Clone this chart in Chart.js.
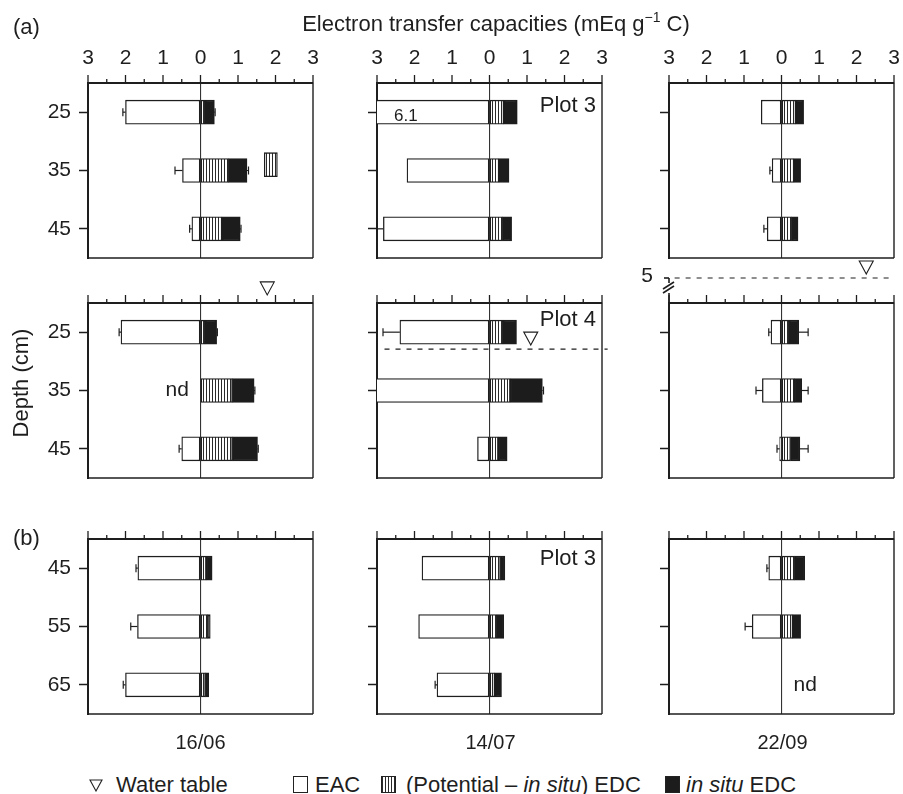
<!DOCTYPE html>
<html>
<head>
<meta charset="utf-8">
<script src="https://cdn.jsdelivr.net/npm/chart.js@4.4.0/dist/chart.umd.min.js"></script>
<style>
body { margin: 0; background: #fff; }
#wrap { position: relative; width: 903px; height: 794px; overflow: hidden; font-family: "Liberation Sans", Arial, sans-serif; color: #1e1e1e; }
#wrap canvas { position: absolute; }
.txt { position: absolute; white-space: nowrap; line-height: 1; }
.box { position: absolute; width: 15px; height: 17px; box-sizing: border-box; border: 1.3px solid #222; }
</style>
</head>
<body>
<div id="wrap"></div>
<script>
// depths (cm) and sampling dates
var depthsA = [25, 35, 45];
var depthsB = [45, 55, 65];
var dates = ['16/06', '14/07', '22/09'];
var xTicks = [-3, -2, -1, 0, 1, 2, 3];

// (a) Plot 3, one inner array per date, values in mEq g-1 C
var eacP3 = [[2.0, 0.48, 0.23], [6.1, 2.2, 2.83], [0.54, 0.25, 0.38]];
var eacErrP3 = [[0.07, 0.2, 0.06], [0, 0, 0.16], [0, 0.06, 0.09]];
var potEdcP3 = [[0.12, 0.75, 0.57], [0.38, 0.25, 0.35], [0.38, 0.33, 0.27]];
var insituEdcP3 = [[0.25, 0.49, 0.49], [0.36, 0.27, 0.24], [0.21, 0.18, 0.17]];
var edcErrP3 = [[0.02, 0.04, 0.02], [0, 0, 0], [0, 0, 0]];
var eacLabelP3 = [null, '6.1', null];
// odd striped box next to 35 cm on 16/06
var extraBoxDepth = 34;
var extraBoxRange = [1.7, 2.05];

// (a) Plot 4
var eacP4 = [[2.12, null, 0.5], [2.39, 3.4, 0.32], [0.28, 0.51, 0.05]];
var eacErrP4 = [[0.05, 0, 0.07], [0.45, 0, 0], [0.06, 0.17, 0.07]];
var potEdcP4 = [[0.12, 0.85, 0.85], [0.36, 0.55, 0.23], [0.2, 0.34, 0.24]];
var insituEdcP4 = [[0.31, 0.58, 0.67], [0.36, 0.86, 0.24], [0.26, 0.2, 0.25]];
var edcErrP4 = [[0.02, 0.02, 0.02], [0, 0.03, 0], [0.25, 0.17, 0.22]];
var wtDepthP4 = [19.3, 27.9, 5];
var wtMarkX = [1.78, 1.1, 2.26];

// (b) Plot 3, deeper layers
var eacDeep = [[1.67, 1.68, 2.0], [1.8, 1.89, 1.4], [0.34, 0.78, null]];
var eacErrDeep = [[0.05, 0.18, 0.06], [0, 0, 0.05], [0.05, 0.19, 0]];
var potEdcDeep = [[0.15, 0.19, 0.13], [0.29, 0.2, 0.14], [0.35, 0.3, null]];
var insituEdcDeep = [[0.16, 0.07, 0.09], [0.12, 0.18, 0.18], [0.27, 0.21, null]];
var edcErrDeep = [[0, 0, 0], [0, 0, 0], [0, 0, 0]];

var FONT = '"Liberation Sans", Arial, sans-serif';
var INK = '#1e1e1e';

var rows = [
    { depths: depthsA, eac: eacP3, eacErr: eacErrP3, pot: potEdcP3, ins: insituEdcP3, edcErr: edcErrP3 },
    { depths: depthsA, eac: eacP4, eacErr: eacErrP4, pot: potEdcP4, ins: insituEdcP4, edcErr: edcErrP4 },
    { depths: depthsB, eac: eacDeep, eacErr: eacErrDeep, pot: potEdcDeep, ins: insituEdcDeep, edcErr: edcErrDeep }
];

// panel layout in page pixels
var colLeft = [88, 377, 669];
var rowTop = [83, 303, 539];
var PW = 225, PH = 175, YAX = 80, XAX = 45;

var wrap = document.getElementById('wrap');

function stripes() {
    var c = document.createElement('canvas');
    c.width = 3; c.height = 3;
    var g = c.getContext('2d');
    g.fillStyle = '#fff';
    g.fillRect(0, 0, 3, 3);
    g.fillStyle = '#2a2a2a';
    g.fillRect(0, 0, 1, 3);
    return g.createPattern(c, 'repeat');
}
var stripeFill = stripes();

function line(g, x0, y0, x1, y1) {
    g.beginPath();
    g.moveTo(x0, y0);
    g.lineTo(x1, y1);
    g.stroke();
}

// no extra label padding, so every chart area lands where it should
function noPad(s) {
    s.paddingLeft = s.paddingRight = s.paddingTop = s.paddingBottom = 0;
}

var panelDecor = {
    id: 'panelDecor',
    afterDatasetsDraw: function(chart) {
        var o = chart.options.plugins.panelDecor;
        var g = chart.ctx;
        var a = chart.chartArea;
        var xs = chart.scales.x, ys = chart.scales.y;
        g.save();
        g.strokeStyle = INK;
        g.fillStyle = INK;

        // right and bottom frame
        g.lineWidth = 1.4;
        line(g, a.right, a.top, a.right, a.bottom);
        line(g, a.left, a.bottom, a.right, a.bottom);

        // major / minor ticks on the top axis
        g.lineWidth = 1.3;
        for (var v = -3; v <= 3.001; v += 0.5) {
            var px = xs.getPixelForValue(v);
            var len = Math.abs(v - Math.round(v)) < 0.01 ? 8 : 4;
            line(g, px, a.top, px, a.top - len);
        }

        // error bars
        g.lineWidth = 1.2;
        o.depths.forEach(function(d, i) {
            var y = ys.getPixelForValue(d);
            var e = o.eac[i];
            if (e != null && o.eacErr[i] > 0 && e < 3) {
                var x0 = xs.getPixelForValue(-e), x1 = xs.getPixelForValue(-e - o.eacErr[i]);
                line(g, x0, y, x1, y);
                line(g, x1, y - 4, x1, y + 4);
            }
            if (o.pot[i] != null && o.edcErr[i] > 0) {
                var t = o.pot[i] + o.ins[i];
                var x2 = xs.getPixelForValue(t), x3 = xs.getPixelForValue(t + o.edcErr[i]);
                line(g, x2, y, x3, y);
                line(g, x3, y - 4, x3, y + 4);
            }
        });
        if (o.eacLabel) {
            g.font = '17px ' + FONT;
            g.textAlign = 'left';
            g.textBaseline = 'middle';
            g.fillText(o.eacLabel, a.left + 17, ys.getPixelForValue(o.depths[0]) + 4);
        }

        // not determined
        if (o.nd) {
            g.font = '21px ' + FONT;
            g.textAlign = 'center';
            g.textBaseline = 'middle';
            g.fillText('nd', xs.getPixelForValue(o.nd.x), ys.getPixelForValue(o.nd.y));
        }

        if (o.plotLabel) {
            g.font = '22px ' + FONT;
            g.textAlign = 'right';
            g.textBaseline = 'middle';
            g.fillText(o.plotLabel, a.right - 6, a.top + o.plotLabelDy);
        }

        // water table
        if (o.wt) {
            var wy = o.wt.broken ? a.top - 25 : ys.getPixelForValue(o.wt.depth);
            g.lineWidth = 1.2;
            if (o.wt.broken) {
                g.setLineDash([5, 6]);
                line(g, xs.getPixelForValue(-2.85), wy, xs.getPixelForValue(3), wy);
                g.setLineDash([]);
                g.lineWidth = 1.6;
                line(g, a.left, a.top, a.left, a.top - 10);
                line(g, a.left - 6, a.top - 10, a.left + 5, a.top - 17);
                line(g, a.left - 6, a.top - 14, a.left + 5, a.top - 21);
                line(g, a.left, a.top - 20, a.left, wy);
                line(g, a.left - 5, wy, a.left, wy);
                g.font = '21px ' + FONT;
                g.textAlign = 'right';
                g.textBaseline = 'middle';
                g.fillText(String(o.wt.depth), a.left - 16, wy - 2);
            } else if (o.wt.line) {
                g.setLineDash([5, 6]);
                line(g, xs.getPixelForValue(o.wt.line[0]), wy, xs.getPixelForValue(o.wt.line[1]), wy);
                g.setLineDash([]);
            }
            var tx = xs.getPixelForValue(o.wt.x), ty = wy - 4;
            g.lineWidth = 1.1;
            g.fillStyle = '#fff';
            g.beginPath();
            g.moveTo(tx, ty);
            g.lineTo(tx - 7, ty - 13);
            g.lineTo(tx + 7, ty - 13);
            g.closePath();
            g.fill();
            g.stroke();
        }
        g.restore();
    }
};

function makePanel(r, c) {
    var row = rows[r];
    var depths = row.depths;
    var cv = document.createElement('canvas');
    var w = YAX + PW + 14, h = XAX + PH + 8;
    cv.width = w; cv.height = h;
    cv.style.left = (colLeft[c] - YAX) + 'px';
    cv.style.top = (rowTop[r] - XAX) + 'px';
    cv.style.width = w + 'px';
    cv.style.height = h + 'px';
    wrap.appendChild(cv);

    var eac = row.eac[c], pot = row.pot[c], ins = row.ins[c];
    var datasets = [{
        label: 'EAC',
        data: depths.map(function(d, i) { return { x: eac[i] == null ? null : -eac[i], y: d }; }),
        backgroundColor: '#fff'
    }, {
        label: '(Potential - in situ) EDC',
        data: depths.map(function(d, i) { return { x: pot[i], y: d }; }),
        backgroundColor: stripeFill
    }, {
        label: 'in situ EDC',
        data: depths.map(function(d, i) { return { x: ins[i], y: d }; }),
        backgroundColor: '#1c1c1c'
    }];
    if (r === 0 && c === 0) {
        datasets.push({
            label: 'extra',
            stack: 'extra',
            grouped: false,
            data: [{ x: extraBoxRange, y: extraBoxDepth }],
            backgroundColor: stripeFill
        });
    }

    var decor = {
        depths: depths, eac: eac, eacErr: row.eacErr[c], pot: pot, ins: ins, edcErr: row.edcErr[c],
        eacLabel: r === 0 ? eacLabelP3[c] : null,
        plotLabel: c === 1 ? (r === 1 ? 'Plot 4' : 'Plot 3') : null,
        plotLabelDy: [23, 17, 20][r],
        nd: null,
        wt: null
    };
    if (r === 1 && c === 0) decor.nd = { x: -0.62, y: 35 };
    if (r === 2 && c === 2) decor.nd = { x: 0.63, y: 65 };
    if (r === 1) {
        decor.wt = { depth: wtDepthP4[c], x: wtMarkX[c] };
        if (c === 1) decor.wt.line = [-2.8, 3.15];
        if (c === 2) decor.wt.broken = true;
    }

    new Chart(cv.getContext('2d'), {
        type: 'bar',
        data: { datasets: datasets },
        options: {
            indexAxis: 'y',
            responsive: false,
            animation: false,
            layout: { padding: { left: 0, top: 0, right: 14, bottom: 8 } },
            datasets: { bar: { barThickness: 24, borderWidth: 1.3, borderColor: INK, borderSkipped: false } },
            plugins: {
                legend: { display: false },
                tooltip: { enabled: false },
                panelDecor: decor
            },
            scales: {
                x: {
                    type: 'linear', position: 'top', min: -3, max: 3, stacked: true, offset: false,
                    afterFit: function(s) { s.height = XAX; noPad(s); },
                    afterBuildTicks: function(s) { s.ticks = xTicks.map(function(v) { return { value: v }; }); },
                    ticks: {
                        display: r === 0, padding: 12, color: INK, maxRotation: 0,
                        font: { size: 21, family: FONT },
                        callback: function(v) { return String(Math.abs(v)); }
                    },
                    grid: {
                        drawTicks: false, lineWidth: 1.1, offset: false,
                        color: function(ctx) { return ctx.tick && ctx.tick.value === 0 ? '#333' : 'rgba(0,0,0,0)'; }
                    },
                    border: { display: true, color: INK, width: 2 }
                },
                y: {
                    type: 'linear', reverse: true, min: depths[0] - 5, max: depths[2] + 5, stacked: true, offset: false,
                    afterFit: function(s) { s.width = YAX; noPad(s); },
                    afterBuildTicks: function(s) { s.ticks = depths.map(function(v) { return { value: v }; }); },
                    ticks: { display: c === 0, padding: 8, color: INK, font: { size: 21, family: FONT } },
                    grid: { drawOnChartArea: false, drawTicks: true, offset: false, tickLength: 9, tickColor: INK, tickWidth: 1.5 },
                    border: { display: true, color: INK, width: 2 }
                }
            }
        },
        plugins: [panelDecor]
    });
}

for (var r = 0; r < 3; r++) {
    for (var c = 0; c < 3; c++) makePanel(r, c);
}

function addText(html, x, y, align, size, extra) {
    var d = document.createElement('div');
    d.className = 'txt';
    d.innerHTML = html;
    d.style.fontSize = size + 'px';
    d.style.left = x + 'px';
    d.style.top = y + 'px';
    var tx = align === 'center' ? '-50%' : (align === 'right' ? '-100%' : '0');
    d.style.transform = 'translate(' + tx + ', -50%)' + (extra || '');
    wrap.appendChild(d);
    return d;
}

addText('(a)', 13, 27, 'left', 22);
addText('(b)', 13, 538, 'left', 22);
addText('Electron transfer capacities (mEq g<span style="font-size:14px;position:relative;top:-9px">\u22121</span> C)', 496, 24, 'center', 22);
addText('Depth (cm)', 21, 383, 'center', 22, ' rotate(-90deg)');
dates.forEach(function(d, i) {
    addText(d, colLeft[i] + PW / 2 + (i === 0 ? 0 : 1), 742, 'center', 20);
});

// legend
var tri = document.createElement('div');
tri.className = 'txt';
tri.style.left = '89px';
tri.style.top = '779px';
tri.innerHTML = '<svg width="14" height="13"><polygon points="1,1 13,1 7,12" fill="#fff" stroke="#222" stroke-width="1.1"/></svg>';
wrap.appendChild(tri);
addText('Water table', 116, 785, 'left', 22);

function addBox(x, bg) {
    var b = document.createElement('div');
    b.className = 'box';
    b.style.left = x + 'px';
    b.style.top = '776px';
    b.style.background = bg;
    wrap.appendChild(b);
}
addBox(293, '#fff');
addText('EAC', 315, 785, 'left', 22);
addBox(381, 'repeating-linear-gradient(90deg, #2a2a2a 0px, #2a2a2a 1px, #fff 1px, #fff 3px)');
addText('(Potential \u2013 <i>in situ</i>) EDC', 406, 785, 'left', 22);
addBox(665, '#1c1c1c');
addText('<i>in situ</i> EDC', 686, 785, 'left', 22);
</script>
</body>
</html>
